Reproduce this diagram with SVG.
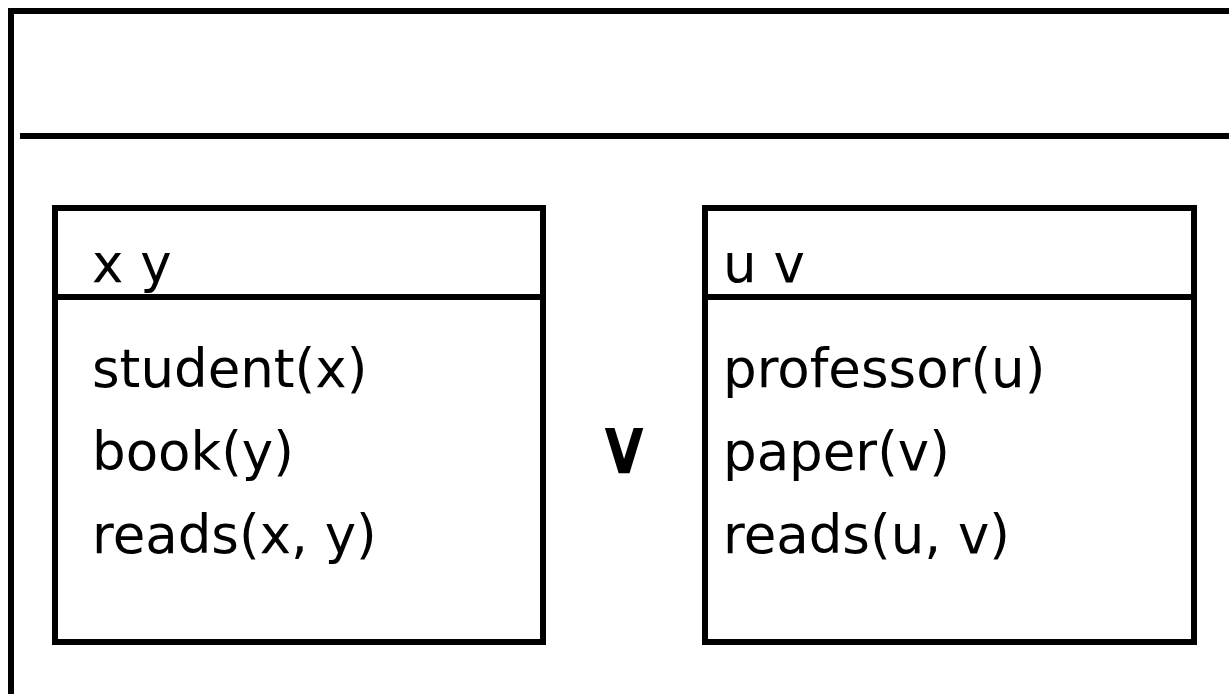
<svg xmlns="http://www.w3.org/2000/svg" width="1229" height="694" viewBox="0 0 1229 694">
  <style>
    .frame { fill: none; stroke: #000; stroke-width: 6; }
    .rule { stroke: #000; stroke-width: 6; }
    .lbl { font-family: "DejaVu Sans", sans-serif; font-size: 53px; fill: #000; }
    .op { font-family: "DejaVu Sans", sans-serif; font-size: 74px; fill: #000; stroke: #000; stroke-width: 2.5; stroke-linejoin: miter; }
  </style>
  <rect width="1229" height="694" fill="#fff"/>

  <!-- outer DRS frame (runs off the right and bottom edges) -->
  <g id="outer">
    <rect class="frame" x="11" y="11" width="1260" height="720"/>
    <line class="rule" x1="20" y1="136" x2="1229" y2="136"/>
  </g>

  <!-- left sub-box -->
  <g id="box-left">
    <rect class="frame" x="55" y="208" width="488" height="434"/>
    <line class="rule" x1="52" y1="297" x2="546" y2="297"/>
    <text class="lbl" x="92" y="282">x y</text>
    <text class="lbl" x="92" y="387">student(x)</text>
    <text class="lbl" x="92" y="470">book(y)</text>
    <text class="lbl" x="92" y="553">reads(x, y)</text>
  </g>

  <!-- disjunction symbol -->
  <g id="or">
    <text class="op" x="624" y="472" text-anchor="middle">∨</text>
  </g>

  <!-- right sub-box -->
  <g id="box-right">
    <rect class="frame" x="705" y="208" width="489" height="434"/>
    <line class="rule" x1="702" y1="297" x2="1197" y2="297"/>
    <text class="lbl" x="723" y="282">u v</text>
    <text class="lbl" x="723" y="387">professor(u)</text>
    <text class="lbl" x="723" y="470">paper(v)</text>
    <text class="lbl" x="723" y="553">reads(u, v)</text>
  </g>

  <g id="connectors"></g>
</svg>
